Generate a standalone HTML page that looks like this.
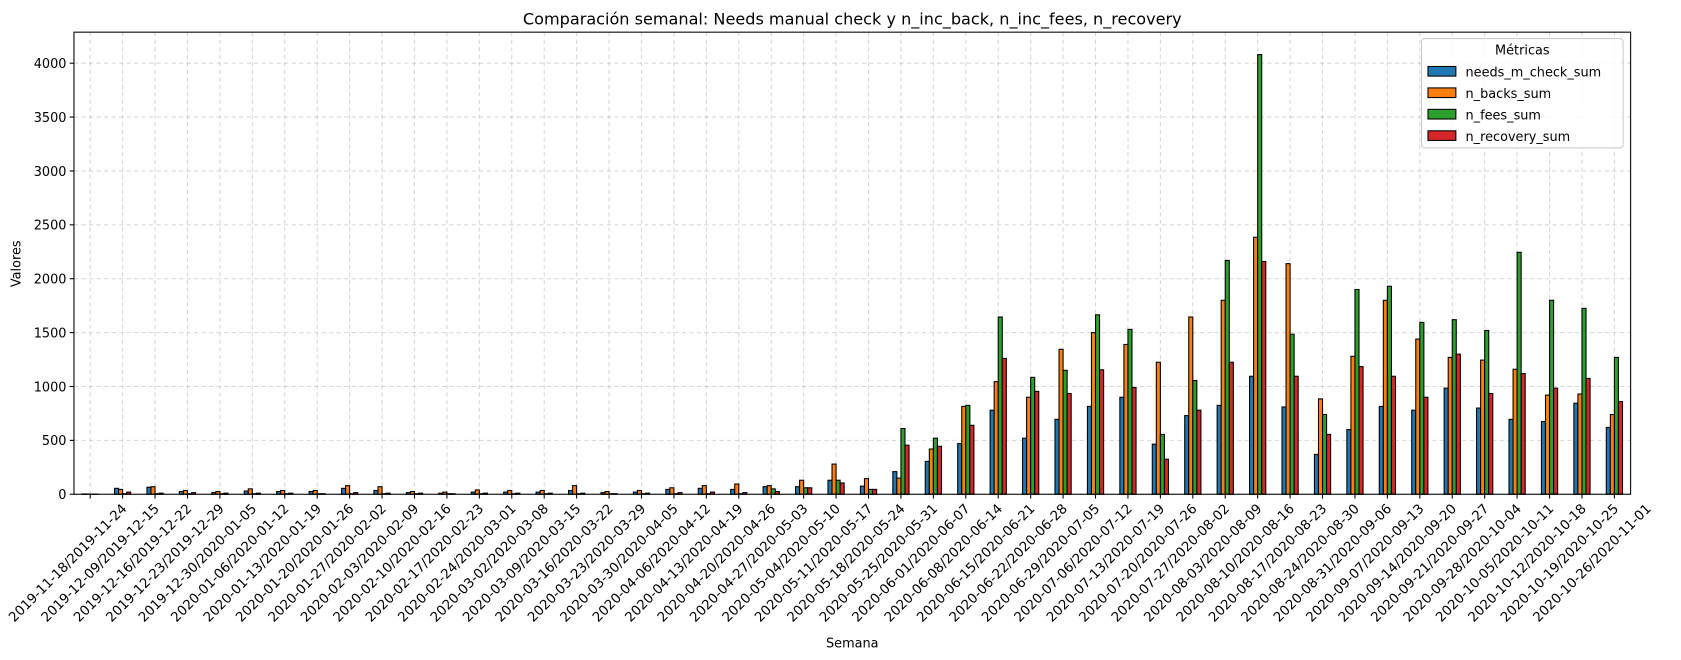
<!DOCTYPE html>
<html><head><meta charset="utf-8">
<style>
html,body{margin:0;padding:0;background:#fff;}
svg{display:block;font-family:"DejaVu Sans","Liberation Sans",sans-serif;}
</style></head>
<body>
<svg id="chart" width="1681" height="660" viewBox="0 0 1568 615.6" preserveAspectRatio="none" xmlns="http://www.w3.org/2000/svg">
<rect width="1568" height="616" fill="#fff"/>
<text x="795" y="23" font-size="15" text-anchor="middle" fill="#000">Comparación semanal: Needs manual check y n_inc_back, n_inc_fees, n_recovery</text>
<g id="grid"></g>
<g id="bars"></g>
<g id="axes"></g>
<text x="0" y="0" font-size="12" text-anchor="middle" transform="translate(19,246) rotate(-90)">Valores</text>
<text x="795" y="604" font-size="12" text-anchor="middle">Semana</text>
<g>
<rect x="1326" y="36" width="188" height="102" rx="3" fill="#fff" fill-opacity="0.85" stroke="#ccc"/>
<text x="1420" y="51" font-size="12" text-anchor="middle">Métricas</text>
<g id="legend-items"></g>
</g>
</svg>
<script>
const categories = ["2019-11-18/2019-11-24","2019-12-09/2019-12-15","2019-12-16/2019-12-22","2019-12-23/2019-12-29","2019-12-30/2020-01-05","2020-01-06/2020-01-12","2020-01-13/2020-01-19","2020-01-20/2020-01-26","2020-01-27/2020-02-02","2020-02-03/2020-02-09","2020-02-10/2020-02-16","2020-02-17/2020-02-23","2020-02-24/2020-03-01","2020-03-02/2020-03-08","2020-03-09/2020-03-15","2020-03-16/2020-03-22","2020-03-23/2020-03-29","2020-03-30/2020-04-05","2020-04-06/2020-04-12","2020-04-13/2020-04-19","2020-04-20/2020-04-26","2020-04-27/2020-05-03","2020-05-04/2020-05-10","2020-05-11/2020-05-17","2020-05-18/2020-05-24","2020-05-25/2020-05-31","2020-06-01/2020-06-07","2020-06-08/2020-06-14","2020-06-15/2020-06-21","2020-06-22/2020-06-28","2020-06-29/2020-07-05","2020-07-06/2020-07-12","2020-07-13/2020-07-19","2020-07-20/2020-07-26","2020-07-27/2020-08-02","2020-08-03/2020-08-09","2020-08-10/2020-08-16","2020-08-17/2020-08-23","2020-08-24/2020-08-30","2020-08-31/2020-09-06","2020-09-07/2020-09-13","2020-09-14/2020-09-20","2020-09-21/2020-09-27","2020-09-28/2020-10-04","2020-10-05/2020-10-11","2020-10-12/2020-10-18","2020-10-19/2020-10-25","2020-10-26/2020-11-01"];
const needsCheck = [3,55,65,25,15,30,25,25,55,35,15,10,20,20,20,35,15,20,45,55,45,70,70,130,75,210,305,470,780,520,695,815,900,465,730,825,1095,810,370,600,815,780,985,800,695,675,845,620];
const nBacks = [2,45,70,35,25,50,35,35,80,70,25,20,40,35,35,80,25,35,60,80,95,80,130,280,145,150,420,815,1045,900,1345,1500,1390,1225,1645,1800,2385,2140,885,1280,1800,1440,1270,1245,1160,920,930,740];
const nFees = [1,5,5,5,5,5,5,5,5,5,5,5,5,5,5,5,5,5,5,5,5,50,60,130,45,610,520,825,1645,1085,1150,1665,1530,555,1055,2170,4080,1485,740,1900,1930,1595,1620,1520,2245,1800,1725,1270];
const nRecovery = [1,20,10,15,10,10,10,5,15,10,10,5,10,10,10,10,5,10,15,20,15,25,60,105,45,455,445,640,1260,955,935,1155,990,325,780,1225,2160,1095,555,1185,1095,900,1300,935,1120,985,1075,860];
const yTicks = [0,500,1000,1500,2000,2500,3000,3500,4000];
const seriesNames = ["needs_m_check_sum","n_backs_sum","n_fees_sum","n_recovery_sum"];
const seriesColors = ["#1f77b4","#ff7f0e","#2ca02c","#d62728"];

const NS="http://www.w3.org/2000/svg";
const L=69,R=1521,T=30,B=461,YMAX=4288;
const step=(R-L)/categories.length;
function xC(i){return L+step*(i+0.5);}
function yS(v){return B-(v/YMAX)*(B-T);}
function mk(tag,attrs,parent){const e=document.createElementNS(NS,tag);for(const k in attrs)e.setAttribute(k,attrs[k]);parent.appendChild(e);return e;}
const grid=document.getElementById('grid'),bars=document.getElementById('bars'),axes=document.getElementById('axes');
yTicks.forEach(v=>{
  const y=yS(v);
  const g=mk('line',{x1:L,x2:R,y1:y,y2:y,stroke:'#b0b0b0','stroke-opacity':0.5,'stroke-dasharray':'4,3'},grid);
  
  
  mk('line',{x1:L-4,x2:L,y1:y,y2:y,stroke:'#000'},axes);
  const t=mk('text',{x:L-7,y:y+4.5,'font-size':12,'text-anchor':'end'},axes);
  t.textContent=v;
  
  
});
const series=[needsCheck,nBacks,nFees,nRecovery];
const bw=step*0.5/4;
categories.forEach((c,i)=>{
  const x=xC(i);
  const g=mk('line',{x1:x,x2:x,y1:T,y2:B,stroke:'#b0b0b0','stroke-opacity':0.5,'stroke-dasharray':'4,3'},grid);
  
  
  series.forEach((s,k)=>{
    const bx=x-step*0.25+k*bw, y=yS(s[i]);
    const r=mk('rect',{x:bx,y:y,width:bw,height:B-y,fill:seriesColors[k],stroke:'#000','stroke-width':1},bars);
    
    
  });
  mk('line',{x1:x,x2:x,y1:B,y2:B+4,stroke:'#000'},axes);
  const t=mk('text',{x:0,y:0,'font-size':12.5,'text-anchor':'middle',transform:`translate(${x-18},${B+67}) rotate(-45)`},axes);
  t.textContent=c;
  
  
});
const frame=mk('rect',{x:L,y:T,width:R-L,height:B-T,fill:'none',stroke:'#000','stroke-width':1},axes);


const li=document.getElementById('legend-items');
seriesNames.forEach((n,k)=>{
  const y=67+k*20;
  const sw=mk('rect',{x:1332,y:y-5,width:26,height:9,fill:seriesColors[k],stroke:'#000'},li);
  
  
  const t=mk('text',{x:1367,y:y+4.5,'font-size':12},li);
  t.textContent=n;
  
  
});
</script>
</body></html>
